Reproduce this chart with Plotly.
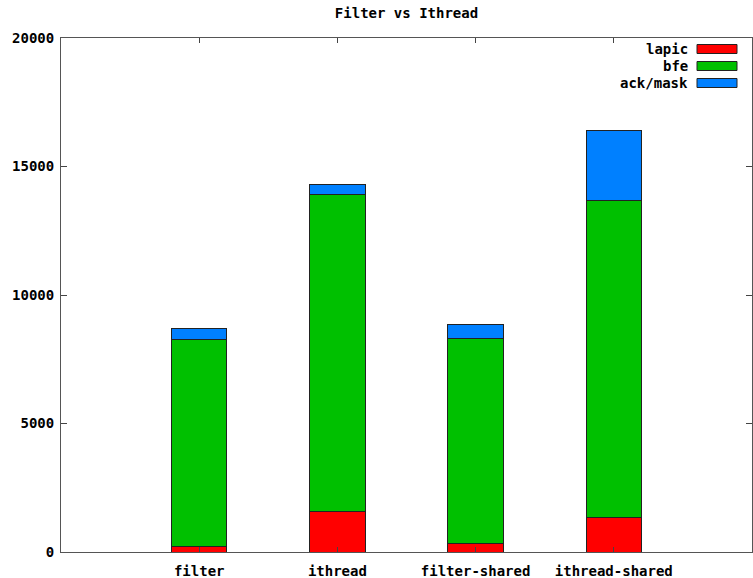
import plotly.graph_objects as go

# Stacked interrupt-cost breakdown per configuration
categories = ["filter", "ithread", "filter-shared", "ithread-shared"]
series_names = ["lapic", "bfe", "ack/mask"]
lapic = [200, 1570, 320, 1330]
bfe = [8050, 12330, 7970, 12330]
ack_mask = [430, 390, 545, 2730]
series_values = [lapic, bfe, ack_mask]
colors = ["#ff0000", "#00c000", "#0080ff"]
y_ticks = [0, 5000, 10000, 15000, 20000]

FONT = "DejaVu Sans Mono"
FSIZE = 14
x_pos = list(range(len(categories)))

fig = go.Figure()
for name, vals, col in zip(series_names, series_values, colors):
    fig.add_trace(go.Bar(
        x=x_pos, y=vals, name=name, width=0.4,
        marker=dict(color=col, line=dict(color="#222222", width=1)),
        showlegend=False,
    ))

# gnuplot-style key: right-aligned text with a colour swatch on its right
for i, (name, col) in enumerate(zip(series_names, colors)):
    ypix = 49 + 17 * i
    yp = 1 - (ypix - 38) / 514
    fig.add_annotation(xref="paper", yref="paper", x=(690 - 61) / 691, y=yp,
                       text=f"<b>{name}</b>", showarrow=False, xanchor="right",
                       yanchor="middle", font=dict(family=FONT, size=FSIZE, color="#000"))
    fig.add_shape(type="rect", xref="paper", yref="paper",
                  x0=(697 - 61) / 691, x1=(737 - 61) / 691,
                  y0=yp - 4.5 / 514, y1=yp + 4.5 / 514,
                  fillcolor=col, line=dict(color="#222222", width=1))

fig.update_layout(
    width=753, height=578,
    margin=dict(l=61, r=1, t=38, b=26),
    barmode="stack",
    paper_bgcolor="white", plot_bgcolor="white",
    title=dict(text="<b>Filter vs Ithread</b>", x=(61 + 752) / 2 / 753, xanchor="center",
               y=1 - 13 / 578, yanchor="middle",
               font=dict(family=FONT, size=FSIZE, color="#000")),
    font=dict(family=FONT, size=FSIZE, color="#000"),
)
fig.update_xaxes(
    range=[-1, 4], tickmode="array", tickvals=x_pos,
    ticktext=[f"<b>{c}</b>" for c in categories],
    ticks="inside", ticklen=5, tickcolor="#444", mirror="ticks",
    ticklabelstandoff=6, automargin=False,
    showline=True, linecolor="#555", linewidth=1, showgrid=False, zeroline=False,
)
fig.update_yaxes(
    range=[0, 20000], tickmode="array", tickvals=y_ticks,
    ticktext=[f"<b>{v}</b>" for v in y_ticks],
    ticks="inside", ticklen=6, tickcolor="#444", mirror="ticks",
    ticklabelstandoff=3, automargin=False,
    showline=True, linecolor="#555", linewidth=1, showgrid=False, zeroline=False,
)

fig.write_html("out.html")
